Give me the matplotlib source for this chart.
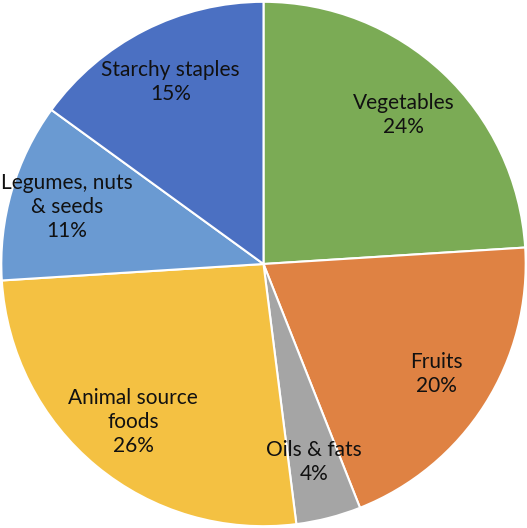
import matplotlib.pyplot as plt

categories = ["Vegetables", "Fruits", "Oils & fats", "Animal source\nfoods",
              "Legumes, nuts\n& seeds", "Starchy staples"]
shares = [24, 20, 4, 26, 11, 15]
colors = ["#7BAB55", "#DF8243", "#A5A5A5", "#F4C142", "#6A9AD2", "#4B70C2"]

labels = [f"{c}\n{s}%" for c, s in zip(categories, shares)]

fig = plt.figure(figsize=(5.27, 5.28), dpi=100)
ax = fig.add_axes([0.0, 0.0, 1.0, 1.0])

wedges, texts = ax.pie(shares, labels=labels, colors=colors, startangle=90,
                       counterclock=False, labeldistance=0.78,
                       wedgeprops=dict(edgecolor="white", linewidth=1.5),
                       textprops=dict(fontsize=15, family="Lato", color="#111111",
                                      linespacing=1.25))
for t in texts:
    t.set_ha("center")
    t.set_va("center")

ax.set_aspect("equal")
ax.set_xlim(-1.005, 1.005)
ax.set_ylim(-1.005, 1.005)

fig.savefig("out.png", dpi=100)
